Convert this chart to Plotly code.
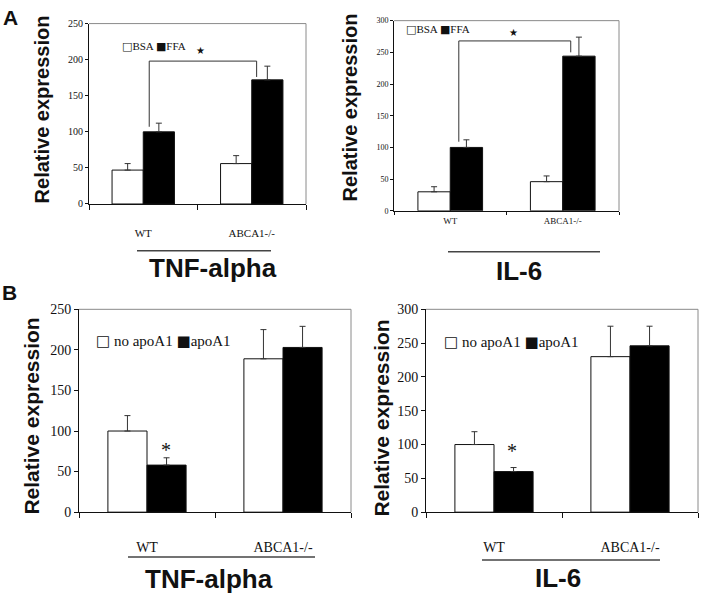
import plotly.graph_objects as go

# ---------------- data ----------------
categories = ["WT", "ABCA1-/-"]

# Panel A – TNF-alpha
tnf_a_bsa = [47, 56]
tnf_a_bsa_err = [9, 11]
tnf_a_ffa = [100, 172]
tnf_a_ffa_err = [12, 19]

# Panel A – IL-6
il6_a_bsa = [30, 46]
il6_a_bsa_err = [8, 9]
il6_a_ffa = [100, 244]
il6_a_ffa_err = [12, 30]

# Panel B – TNF-alpha
tnf_b_no = [100, 189]
tnf_b_no_err = [19, 36]
tnf_b_apo = [58, 203]
tnf_b_apo_err = [9, 26]

# Panel B – IL-6
il6_b_no = [100, 230]
il6_b_no_err = [19, 45]
il6_b_apo = [60, 246]
il6_b_apo_err = [6, 29]

W, H = 701, 605


def px(x):
    return x / W


def py(y):
    return 1 - y / H


SERIF = "Liberation Serif, Times New Roman, serif"
SANS = "Liberation Sans, Arial, sans-serif"

fig = go.Figure()


def add_pair(vals1, err1, vals2, err2, name1, name2, xa, ya):
    for vals, err, name, fill in ((vals1, err1, name1, "white"), (vals2, err2, name2, "black")):
        fig.add_trace(go.Bar(
            x=categories, y=vals, name=name,
            marker=dict(color=fill, line=dict(color="#111", width=1)),
            error_y=dict(type="data", symmetric=False, array=err,
                         arrayminus=[0] * len(err), color="#333",
                         thickness=1, width=3),
            xaxis=xa, yaxis=ya, showlegend=False,
        ))


add_pair(tnf_a_bsa, tnf_a_bsa_err, tnf_a_ffa, tnf_a_ffa_err, "BSA", "FFA", "x", "y")
add_pair(il6_a_bsa, il6_a_bsa_err, il6_a_ffa, il6_a_ffa_err, "BSA", "FFA", "x2", "y2")
add_pair(tnf_b_no, tnf_b_no_err, tnf_b_apo, tnf_b_apo_err, "no apoA1", "apoA1", "x3", "y3")
add_pair(il6_b_no, il6_b_no_err, il6_b_apo, il6_b_apo_err, "no apoA1", "apoA1", "x4", "y4")

# panel geometry (pixels): left, right, top, bottom
panels = {
    1: dict(l=89, r=306, t=17, b=202, ymax=250, tfs=10, xfs=11, ylen=3, xlen=5, stand=19),
    2: dict(l=394, r=619, t=14, b=209, ymax=300, tfs=8, xfs=9, ylen=3, xlen=3, stand=1),
    3: dict(l=79, r=351, t=310, b=518, ymax=250, tfs=14, xfs=14, ylen=4, xlen=5, stand=22),
    4: dict(l=426, r=698, t=310, b=518, ymax=300, tfs=14, xfs=14, ylen=4, xlen=5, stand=22),
}

layout_axes = {}
for i, p in panels.items():
    sx = "" if i == 1 else str(i)
    layout_axes["xaxis" + sx] = dict(
        domain=[px(p["l"]), px(p["r"])], anchor="y" + sx,
        type="category", range=[-0.5, 1.5],
        showline=True, linecolor="#111", linewidth=1,
        ticks="outside", tickson="boundaries", ticklen=p["xlen"], tickcolor="#111",
        showgrid=False, zeroline=False,
        tickfont=dict(family=SERIF, size=p["xfs"], color="#111"),
        ticklabelstandoff=p["stand"],
    )
    layout_axes["yaxis" + sx] = dict(
        domain=[py(p["b"]), py(p["t"])], anchor="x" + sx,
        range=[0, p["ymax"]], dtick=50,
        showline=True, linecolor="#111", linewidth=1,
        ticks="outside", ticklen=p["ylen"], tickcolor="#111",
        showgrid=False, zeroline=False,
        tickfont=dict(family=SERIF, size=p["tfs"], color="#111"),
    )

shapes = []
annotations = []

# gray top / right frame lines
for i in panels:
    sx = "" if i == 1 else str(i)
    xr, yr = "x" + sx + " domain", "y" + sx + " domain"
    shapes.append(dict(type="line", xref=xr, yref=yr, x0=0, x1=1, y0=1, y1=1,
                       line=dict(color="#8a8a8a", width=1)))
    shapes.append(dict(type="line", xref=xr, yref=yr, x0=1, x1=1, y0=0, y1=1,
                       line=dict(color="#8a8a8a", width=1)))

# significance brackets (data coordinates) for panel A
def bracket(xa, ya, x0, x1, ytop, yl, yr_):
    for (a0, b0, a1, b1) in ((x0, yl, x0, ytop), (x0, ytop, x1, ytop), (x1, ytop, x1, yr_)):
        shapes.append(dict(type="line", xref=xa, yref=ya, x0=a0, y0=b0, x1=a1, y1=b1,
                           line=dict(color="#333", width=1)))


bracket("x", "y", 0.055, 1.045, 198, 107, 176)
bracket("x2", "y2", 0.076, 1.071, 268, 109, 250)

# stars
annotations += [
    dict(text="★", xref="x", yref="y", x=0.53, y=213, showarrow=False,
         font=dict(family="DejaVu Sans", size=10, color="#111")),
    dict(text="★", xref="x2", yref="y2", x=0.56, y=281, showarrow=False,
         font=dict(family="DejaVu Sans", size=10, color="#111")),
    dict(text="*", xref="x3", yref="y3", x=0.14, y=76, showarrow=False,
         font=dict(family=SERIF, size=20, color="#111")),
    dict(text="*", xref="x4", yref="y4", x=0.133, y=90, showarrow=False,
         font=dict(family=SERIF, size=20, color="#111")),
]

# in-plot legends
def sq(ch, fs):
    return '<span style="font-family:DejaVu Sans;font-size:%dpx">%s</span>' % (fs, ch)


legend_specs = [
    ("BSA", "FFA", "", 120, 40, 11),
    ("BSA", "FFA", "", 404, 23, 11),
    ("no apoA1", "apoA1", " ", 94, 343, 15),
    ("no apoA1", "apoA1", " ", 442, 344, 15),
]
for n1, n2, gap, x, y, fs in legend_specs:
    txt = sq("□", int(fs * 1.05)) + gap + n1 + " " + sq("■", int(fs * 1.05)) + n2
    annotations.append(dict(text=txt, xref="paper", yref="paper", x=px(x), y=py(y),
                            xanchor="left", yanchor="middle", showarrow=False,
                            font=dict(family=SERIF, size=fs, color="#111")))

# y-axis titles
for x, y, fs in ((42, 105, 20), (350, 103, 20), (32, 420, 21), (382, 421, 21)):
    annotations.append(dict(text="<b>Relative expression</b>", xref="paper", yref="paper",
                            x=px(x), y=py(y), textangle=-90, showarrow=False,
                            xanchor="center", yanchor="middle",
                            font=dict(family=SANS, size=fs, color="#111")))

# gene names + underline
genes = [
    ("TNF-alpha", 213, 268, 137, 271, 250),
    ("IL-6", 519, 271, 448, 600, 251),
    ("TNF-alpha", 209, 587, 128, 315, 564),
    ("IL-6", 558, 586, 482, 660, 567),
]
for txt, cx, cy, lx0, lx1, ly in genes:
    annotations.append(dict(text="<b>" + txt + "</b>", xref="paper", yref="paper",
                            x=px(cx), y=py(cy), showarrow=False,
                            xanchor="center", yanchor="middle",
                            font=dict(family=SANS, size=26, color="#111")))
    shapes.append(dict(type="line", xref="paper", yref="paper",
                       x0=px(lx0), x1=px(lx1), y0=py(ly), y1=py(ly),
                       line=dict(color="#444", width=1.5)))

# panel letters
for txt, x, y in (("A", 10, 11), ("B", 9, 293)):
    annotations.append(dict(text="<b>" + txt + "</b>", xref="paper", yref="paper",
                            x=px(x), y=py(y), showarrow=False,
                            xanchor="center", yanchor="middle",
                            font=dict(family=SANS, size=21, color="#111")))

fig.update_layout(
    width=W, height=H,
    margin=dict(l=0, r=0, t=0, b=0),
    paper_bgcolor="white", plot_bgcolor="white",
    barmode="group", bargap=0.425, bargroupgap=0,
    showlegend=False,
    shapes=shapes, annotations=annotations,
    **layout_axes,
)

fig.write_html(
    "out.html",
    config={"displayModeBar": False},
    post_script="document.body.style.margin='0px';document.body.style.overflow='hidden';",
)
